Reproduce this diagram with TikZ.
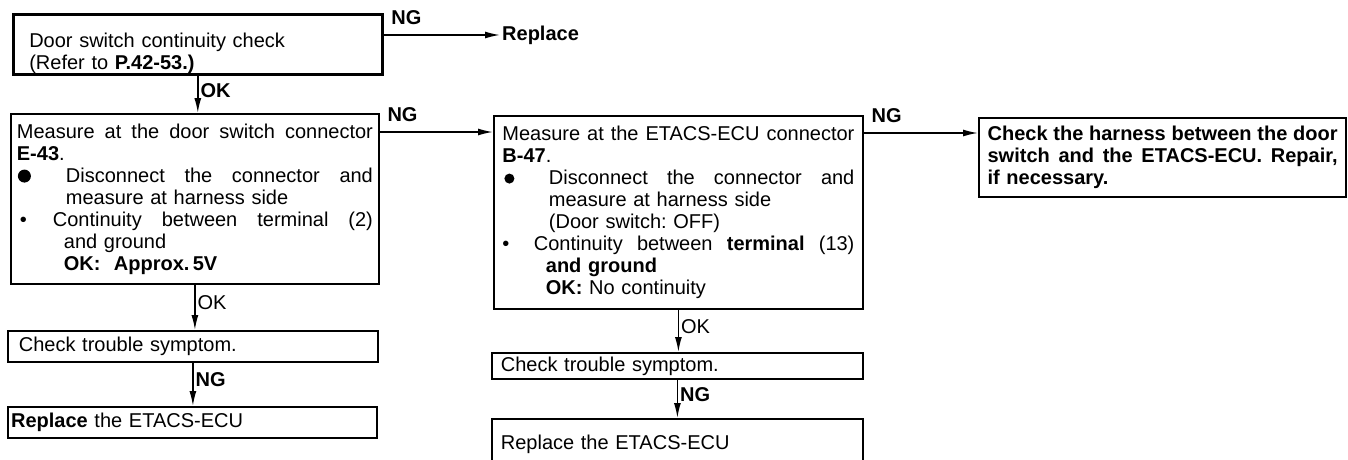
\documentclass[tikz,border=0pt]{standalone}
\usepackage{fontspec}
\setmainfont{Liberation Sans}
\usetikzlibrary{arrows.meta,positioning,calc}
\frenchspacing

% a line stretched over the whole text width
\newcommand{\jline}[1]{\makebox[\hsize][s]{\spaceskip=.278em plus 1fil\relax #1}}
% a lead-in of given width (bullet), the rest stretched
\newcommand{\jlead}[3]{\makebox[#1][l]{#2}\makebox[\dimexpr\hsize-#1\relax][s]{\spaceskip=.278em plus 1fil\relax #3}}
\newcommand{\bigdot}[1]{\tikz[baseline=-6pt]\fill (0pt,0pt) circle (#1);}

\begin{document}
\begin{tikzpicture}[x=1pt, y=-1pt, >={Latex[length=15pt,width=7pt]}]
        \tikzset{chkbox/.style={rectangle, draw, line width=1.8pt, anchor=north west, align=left, inner ysep=0pt, font=\fontsize{20}{22}\selectfont},
                 lbl/.style={font=\fontsize{20}{22}\selectfont\bfseries, inner sep=2pt},
                 lblplain/.style={font=\fontsize{20}{22}\selectfont, inner sep=2pt},
                 flow/.style={->, line width=1.5pt}}
        \useasboundingbox (0,0) rectangle (1348,460);
        \clip (0,0) rectangle (1348,460);
        % left column
        \node[chkbox, line width=2.6pt, text width=337pt, inner xsep=16pt, minimum height=60pt] (chk1) at (12,13)
            {\rule{0pt}{33pt}Door switch continuity check\\(Refer to \textbf{P.42-53.)}};
        \node[lbl, anchor=west] (rep0) at (500,35) {Replace};
        \node[chkbox, text width=356pt, inner xsep=6pt, minimum height=170pt] (meas1) at (10,113)
            {\jline{Measure at the door switch connector}\\
             \textbf{E-43}.\\
             \jlead{49pt}{\hspace{1pt}\bigdot{6.5pt}}{Disconnect the connector and}\\
             \hspace*{49pt}measure at harness side\\
             \jlead{36pt}{\hspace{3pt}\textbullet}{Continuity between terminal (2)}\\
             \hspace*{47pt}and ground\\
             \hspace*{47pt}\textbf{OK:\ \ Approx.\,5V}};
        \node[chkbox, text width=348pt, inner xsep=11pt, minimum height=31pt] (sym1) at (7,330) {Check trouble symptom.};
        \node[chkbox, line width=2.2pt, text width=363pt, inner xsep=3pt, minimum height=31pt] (rep1) at (7,406) {\textbf{Replace} the ETACS-ECU};
        % middle column
        \node[chkbox, text width=352pt, inner xsep=8.5pt, minimum height=193pt] (meas2) at (493,115)
            {\jline{Measure at the ETACS-ECU connector}\\
             \textbf{B-47}.\\
             \jlead{46.5pt}{\hspace{2pt}\bigdot{5pt}}{Disconnect the connector and}\\
             \hspace*{46.5pt}measure at harness side\\
             \hspace*{46.5pt}(Door switch: OFF)\\
             \jlead{31.5pt}{\textbullet}{Continuity between \textbf{terminal} (13)}\\
             \hspace*{43.5pt}\textbf{and ground}\\
             \hspace*{43.5pt}\textbf{OK:} No continuity};
        \node[chkbox, text width=353pt, inner xsep=9pt, minimum height=26pt] (sym2) at (491,352) {Check trouble symptom.};
        \node[chkbox, text width=353pt, inner xsep=9pt, minimum height=50pt] (rep2) at (491,418) {Replace the ETACS-ECU};
        % right column
        \node[chkbox, line width=2.2pt, text width=350pt, inner xsep=8.5pt, minimum height=79pt, font=\fontsize{20}{22}\selectfont\bfseries] (harn) at (978,117)
            {\jline{Check the harness between the door}\\
             \jline{switch and the ETACS-ECU. Repair,}\\
             if necessary.};
        % connectors
        \draw[flow] (chk1.east |- rep0) -- node[lbl, pos=0, anchor=south west, inner xsep=7pt, inner ysep=10pt] {NG} (rep0.west);
        \draw[flow] ($(meas1.north east)+(0,19)$) coordinate (m1) -- node[lbl, pos=0, anchor=south west, inner xsep=7pt, inner ysep=10pt] {NG} (m1 -| meas2.west);
        \draw[flow] ($(meas2.north east)+(0,18)$) coordinate (m2) -- node[lbl, pos=0, anchor=south west, inner xsep=7pt, inner ysep=10pt] {NG} (m2 -| harn.west);
        \draw[flow] (chk1.south) -- node[lbl, right, pos=0.4] {OK} (chk1.south |- meas1.north);
        \draw[flow] (meas1.south) -- node[lblplain, right, pos=0.4] {OK} (meas1.south |- sym1.north);
        \draw[flow] (sym1.south) -- node[lbl, right, pos=0.4] {NG} (sym1.south |- rep1.north);
        \draw[flow] (meas2.south) -- node[lblplain, right, pos=0.4] {OK} (meas2.south |- sym2.north);
        \draw[flow] (sym2.south) -- node[lbl, right, pos=0.4] {NG} (sym2.south |- rep2.north);
\end{tikzpicture}
\end{document}
